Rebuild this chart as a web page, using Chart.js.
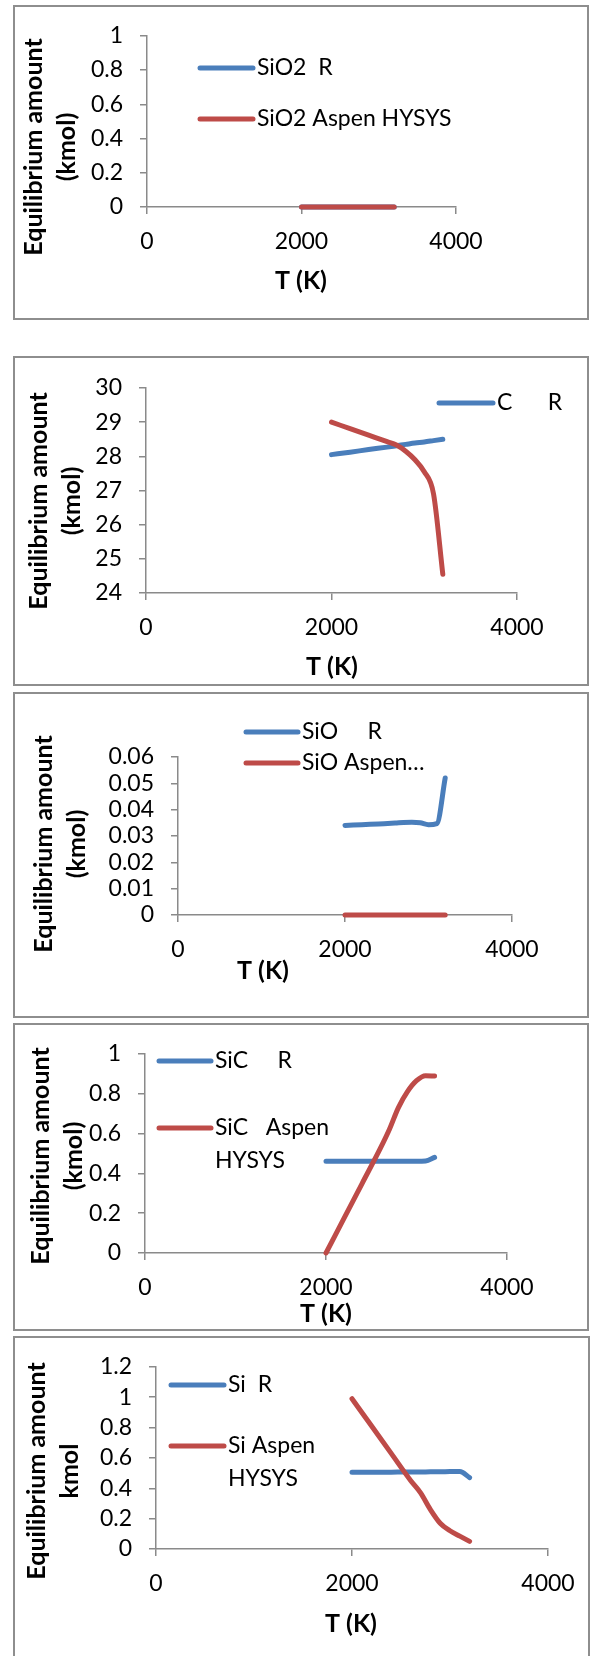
<!DOCTYPE html>
<html>
<head>
<meta charset="utf-8">
<script src="https://cdn.jsdelivr.net/npm/chart.js@4.4.1/dist/chart.umd.min.js"></script>
<style>
html,body{margin:0;padding:0;background:#fff;}
body{position:relative;width:595px;height:1656px;overflow:hidden;}
.panel{position:absolute;background:#fff;}
.panel canvas{position:absolute;left:0;top:0;}
.frame{position:absolute;left:0;top:0;right:0;bottom:0;border:2px solid #8e8e8e;box-sizing:border-box;pointer-events:none;}
</style>
</head>
<body>
<script>
// ---------------- DATA ----------------
const temperatureK = [2000, 2200, 2400, 2600, 2700, 2800, 2900, 3000, 3100, 3200];
const xTickValues = [0, 2000, 4000];

const sio2R      = [0, 0, 0, 0, 0, 0, 0, 0, 0, 0];
const sio2Hysys  = [0, 0, 0, 0, 0, 0, 0, 0, 0, 0];
const cR         = [28.05, 28.12, 28.20, 28.27, 28.31, 28.35, 28.39, 28.42, 28.46, 28.50];
const cHysys     = [29.00, 28.81, 28.62, 28.43, 28.33, 28.15, 27.90, 27.55, 26.90, 24.55];
const sioR       = [0.0340, 0.0343, 0.0346, 0.0349, 0.0351, 0.0352, 0.0350, 0.0343, 0.0347, 0.0520];
const sioHysys   = [0, 0, 0, 0, 0, 0, 0, 0, 0, 0];
const sicR       = [0.46, 0.46, 0.46, 0.46, 0.46, 0.46, 0.46, 0.46, 0.462, 0.48];
const sicHysys   = [0.00, 0.175, 0.35, 0.525, 0.62, 0.73, 0.81, 0.865, 0.89, 0.888];
const siR        = [0.505, 0.505, 0.506, 0.507, 0.507, 0.508, 0.508, 0.510, 0.510, 0.470];
const siHysys    = [0.99, 0.81, 0.63, 0.45, 0.37, 0.26, 0.17, 0.12, 0.085, 0.05];

const yTicksSio2 = [0, 0.2, 0.4, 0.6, 0.8, 1];
const yTicksC    = [24, 25, 26, 27, 28, 29, 30];
const yTicksSio  = [0, 0.01, 0.02, 0.03, 0.04, 0.05, 0.06];
const yTicksSic  = [0, 0.2, 0.4, 0.6, 0.8, 1];
const yTicksSi   = [0, 0.2, 0.4, 0.6, 0.8, 1, 1.2];

const namesSio2 = ['SiO2  R', 'SiO2 Aspen HYSYS'];
const namesC    = ['C      R', 'C Aspen HYSYS'];
const namesSio  = ['SiO     R', 'SiO Aspen\u2026'];
const namesSic  = ['SiC     R', 'SiC   Aspen\nHYSYS'];
const namesSi   = ['Si  R', 'Si Aspen\nHYSYS'];

const yTitleKmolParen = ['Equilibrium amount', '(kmol)'];
const yTitleKmol = ['Equilibrium amount', 'kmol'];
const xTitle = 'T (K)';

// ---------------- LAYOUT / STYLE ----------------
const BLUE = '#4A7EBB', RED = '#BE4B48', AXIS = '#8a8a8a';
const FONT = 'Lato';

const panels = [
  {box:{l:13,t:5,r:589,b:320}, plot:{l:147,t:21,r:456,b:207}, yT:{x:34,y:147}, xT:{x:301,y:281},
   series:[sio2R, sio2Hysys], names:namesSio2, yTicks:yTicksSio2, yTitle:yTitleKmolParen,
   legend:[{ds:0,x1:200,x2:253,y:68},{ds:1,x1:200,x2:253,y:119}]},
  {box:{l:13,t:356,r:589,b:686}, plot:{l:146,t:388,r:517,b:593}, yT:{x:39,y:501}, xT:{x:332,y:667},
   series:[cR, cHysys], names:namesC, yTicks:yTicksC, yTitle:yTitleKmolParen,
   legend:[{ds:0,x1:439,x2:493,y:403}]},
  {box:{l:13,t:692,r:589,b:1018}, plot:{l:178,t:757,r:512,b:915}, yT:{x:44,y:844}, xT:{x:263,y:971},
   series:[sioR, sioHysys], names:namesSio, yTicks:yTicksSio, yTitle:yTitleKmolParen,
   legend:[{ds:0,x1:246,x2:298,y:732},{ds:1,x1:246,x2:298,y:763}]},
  {box:{l:13,t:1023,r:589,b:1331}, plot:{l:145,t:1050,r:507,b:1253}, yT:{x:41,y:1156}, xT:{x:326,y:1314},
   series:[sicR, sicHysys], names:namesSic, yTicks:yTicksSic, yTitle:yTitleKmolParen,
   legend:[{ds:0,x1:159,x2:211,y:1061},{ds:1,x1:159,x2:211,y:1128}]},
  {box:{l:13,t:1336,r:590,b:1661}, plot:{l:156,t:1365,r:548,b:1549}, yT:{x:37,y:1471}, xT:{x:351,y:1624},
   series:[siR, siHysys], names:namesSi, yTicks:yTicksSi, yTitle:yTitleKmol,
   legend:[{ds:0,x1:171,x2:224,y:1385},{ds:1,x1:171,x2:224,y:1446}]}
];

const decor = {
  id: 'decor',
  afterDraw(chart, args, o) {
    const P = o.panel, ox = P.box.l, oy = P.box.t, ctx = chart.ctx;
    ctx.save();
    ctx.fillStyle = '#000';
    ctx.textAlign = 'center';
    ctx.textBaseline = 'middle';
    ctx.font = 'bold 25px ' + FONT;
    P.yTitle.forEach((line, i) => {
      ctx.save();
      ctx.translate(P.yT.x + i * 33 - ox, P.yT.y - oy);
      ctx.rotate(-Math.PI / 2);
      ctx.fillText(line, 0, 0);
      ctx.restore();
    });
    ctx.fillText(xTitle, P.xT.x - ox, P.xT.y - oy);
    ctx.font = '23px ' + FONT;
    ctx.textAlign = 'left';
    P.legend.forEach(it => {
      const ds = chart.data.datasets[it.ds];
      ctx.strokeStyle = ds.borderColor;
      ctx.lineWidth = 5;
      ctx.lineCap = 'round';
      ctx.beginPath();
      ctx.moveTo(it.x1 - ox, it.y - oy);
      ctx.lineTo(it.x2 - ox, it.y - oy);
      ctx.stroke();
      ds.label.split('\n').forEach((t, j) => ctx.fillText(t, it.x2 + 4 - ox, it.y - oy + j * 33));
    });
    ctx.restore();
  }
};

function fmt(v) { return String(parseFloat(Number(v).toFixed(4))); }

function build() {
  panels.forEach(P => {
    const W = P.box.r - P.box.l, H = P.box.b - P.box.t;
    const div = document.createElement('div');
    div.className = 'panel';
    div.style.left = P.box.l + 'px'; div.style.top = P.box.t + 'px';
    div.style.width = W + 'px'; div.style.height = H + 'px';
    const cv = document.createElement('canvas');
    cv.width = W; cv.height = H;
    cv.style.width = W + 'px'; cv.style.height = H + 'px';
    div.appendChild(cv);
    const fr = document.createElement('div'); fr.className = 'frame';
    div.appendChild(fr);
    document.body.appendChild(div);

    const colors = [BLUE, RED];
    const datasets = P.series.map((vals, i) => ({
      label: P.names[i],
      data: temperatureK.map((t, k) => ({x: t, y: vals[k]})),
      borderColor: colors[i],
      backgroundColor: colors[i],
      borderWidth: 5,
      pointRadius: 0,
      tension: 0.4,
      cubicInterpolationMode: 'monotone',
      borderCapStyle: 'round',
      borderJoinStyle: 'round',
      fill: false,
      clip: false,
      order: i === 0 ? 1 : 0
    }));
    const tickFont = {family: FONT, size: 23};
    const gridOpt = {display: true, drawOnChartArea: false, drawTicks: true, tickLength: 7, color: AXIS, lineWidth: 1.5};
    const borderOpt = {display: true, color: AXIS, width: 1.5};
    new Chart(cv, {
      type: 'line',
      data: {datasets},
      plugins: [decor],
      options: {
        responsive: false, animation: false, devicePixelRatio: 1,
        layout: {padding: {left: 0, top: P.plot.t - P.box.t, right: P.box.r - P.plot.r, bottom: 0}},
        plugins: {legend: {display: false}, tooltip: {enabled: false}, title: {display: false}, decor: {panel: P}},
        scales: {
          x: {
            type: 'linear', min: xTickValues[0], max: xTickValues[xTickValues.length - 1],
            afterBuildTicks: s => { s.ticks = xTickValues.map(v => ({value: v})); },
            afterFit: s => { s.height = P.box.b - P.plot.b; },
            ticks: {font: tickFont, color: '#000', padding: 14, autoSkip: false, maxRotation: 0, callback: v => fmt(v)},
            grid: gridOpt, border: borderOpt
          },
          y: {
            type: 'linear', min: P.yTicks[0], max: P.yTicks[P.yTicks.length - 1],
            afterBuildTicks: s => { s.ticks = P.yTicks.map(v => ({value: v})); },
            afterFit: s => { s.width = P.plot.l - P.box.l; },
            ticks: {font: tickFont, color: '#000', padding: 17, autoSkip: false, callback: v => fmt(v)},
            grid: gridOpt, border: borderOpt
          }
        }
      }
    });
  });
}

const fontsReady = (document.fonts && document.fonts.load)
  ? Promise.all([document.fonts.load('23px Lato'), document.fonts.load('bold 25px Lato')]).catch(() => {})
  : Promise.resolve();
fontsReady.then(build);
</script>
</body>
</html>
